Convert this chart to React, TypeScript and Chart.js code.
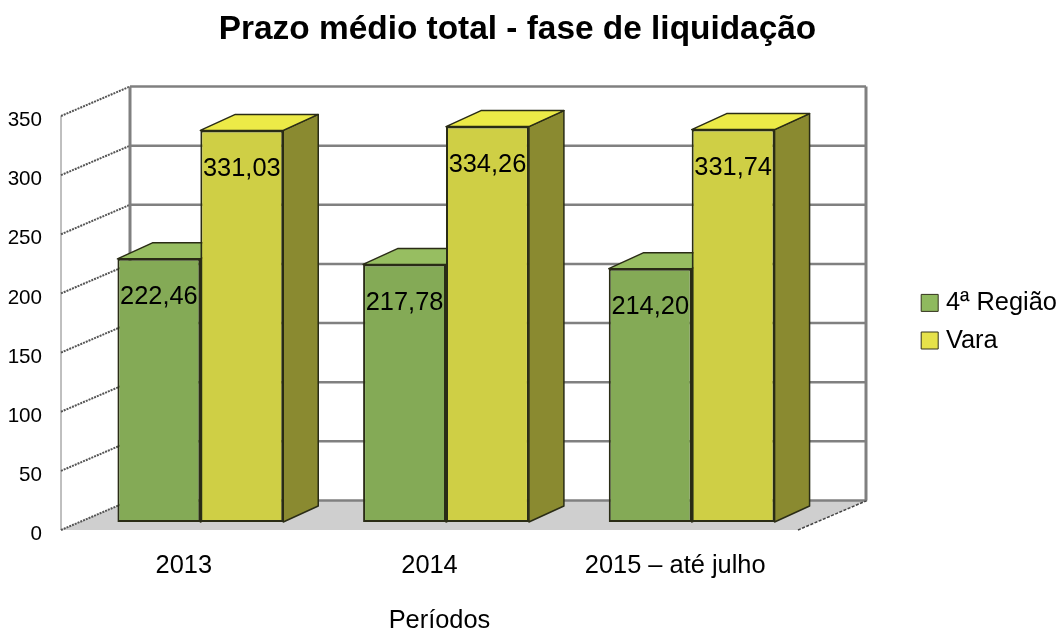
import React, { useEffect, useRef } from "react";
import { Chart, registerables } from "chart.js";

Chart.register(...registerables);

const categories = ["2013", "2014", "2015 – até julho"];
const regiao = [222.46, 217.78, 214.2];
const vara = [331.03, 334.26, 331.74];
const seriesNames = ["4ª Região", "Vara"];
const yTicks = [0, 50, 100, 150, 200, 250, 300, 350];
const titleText = "Prazo médio total - fase de liquidação";
const xTitleText = "Períodos";

const FONT = "'Liberation Sans', Arial, sans-serif";
const faceColors = ["#84AA56", "#CFCF45"];
const topColors = ["#97BE61", "#ECEA47"];
const sideColors = ["#64803F", "#8A8A30"];
const legendColors = ["#8FB95E", "#E6E24A"];
const edge = "#2A2C16";
const gridColor = "#808080";

// depth of the box (floor) and offset / depth of the bars inside it
const WALL_DX = 69;
const WALL_DY = -29.5;
const BAR_SHIFT_X = 16.5;
const BAR_SHIFT_Y = -8;
const BAR_DX = 35;
const BAR_DY = -16;

const fmt = (v: number) => v.toFixed(2).replace(".", ",");

function poly(ctx: CanvasRenderingContext2D, pts: number[][], fill: string | null, stroke?: string, lw = 1) {
  ctx.beginPath();
  pts.forEach((p, i) => (i ? ctx.lineTo(p[0], p[1]) : ctx.moveTo(p[0], p[1])));
  ctx.closePath();
  if (fill) {
    ctx.fillStyle = fill;
    ctx.fill();
  }
  if (stroke) {
    ctx.strokeStyle = stroke;
    ctx.lineWidth = lw;
    ctx.lineJoin = "round";
    ctx.stroke();
  }
}

function seg(ctx: CanvasRenderingContext2D, x1: number, y1: number, x2: number, y2: number, color: string, lw: number, dash: number[] = []) {
  ctx.save();
  ctx.beginPath();
  ctx.setLineDash(dash);
  ctx.moveTo(x1, y1);
  ctx.lineTo(x2, y2);
  ctx.strokeStyle = color;
  ctx.lineWidth = lw;
  ctx.stroke();
  ctx.restore();
}

const box3d = {
  id: "box3d",
  afterLayout(chart: any) {
    // keep the legend and the titles where the reference has them
    const lg = chart.legend;
    lg.left = 914;
    lg.right = 1059;
    lg.top = 278;
    lg.bottom = 420;
    chart.titleBlock.left = 0;
    chart.titleBlock.right = 1035;
    chart.scales.x.right = 818;
  },
  beforeDatasetsDraw(chart: any) {
    const { ctx, chartArea: a, scales } = chart;
    const y = scales.y;
    const bottom = y.getPixelForValue(0);
    const backL = a.left + WALL_DX;
    const backR = a.right + WALL_DX - 1;
    ctx.save();
    poly(ctx, [
      [a.left, bottom],
      [a.right, bottom],
      [backR + 1, bottom + WALL_DY],
      [backL, bottom + WALL_DY],
    ], "#CFCFCF");
    seg(ctx, a.left, y.getPixelForValue(350), a.left, bottom, gridColor, 1);
    yTicks.forEach((t) => {
      const p = y.getPixelForValue(t);
      seg(ctx, backL, p + WALL_DY, backR, p + WALL_DY, gridColor, 2.5);
      seg(ctx, a.left, p, backL, p + WALL_DY, "#555555", 2, [2, 1]);
    });
    seg(ctx, a.right, bottom, backR + 1, bottom + WALL_DY, "#444444", 1.5, [3, 1.5]);
    const wallTop = y.getPixelForValue(350) + WALL_DY;
    seg(ctx, backL, wallTop, backL, bottom + WALL_DY, gridColor, 3);
    seg(ctx, backR, wallTop, backR, bottom + WALL_DY, gridColor, 3);

    // Sides and tops of the bars, back to front: their fronts are drawn by the chart
    ctx.translate(BAR_SHIFT_X, BAR_SHIFT_Y);
    [0, 1].forEach((di) => {
      chart.getDatasetMeta(di).data.forEach((el: any) => {
        const l = el.x - el.width / 2;
        const r = el.x + el.width / 2;
        const t = el.y;
        const b = el.base;
        poly(ctx, [[r, t], [r + BAR_DX, t + BAR_DY], [r + BAR_DX, b + BAR_DY], [r, b]], sideColors[di], edge, 1.5);
        poly(ctx, [[l, t], [r, t], [r + BAR_DX, t + BAR_DY], [l + BAR_DX, t + BAR_DY]], topColors[di], edge, 1.5);
      });
    });
    ctx.restore();
    // fronts of the bars lie inside the box, not on its front edge
    ctx.save();
    ctx.translate(BAR_SHIFT_X, BAR_SHIFT_Y);
  },
  afterDatasetsDraw(chart: any) {
    const { ctx } = chart;
    ctx.restore();
    ctx.save();
    ctx.fillStyle = "#000";
    ctx.font = `25.4px ${FONT}`;
    ctx.textAlign = "center";
    ctx.textBaseline = "middle";
    [regiao, vara].forEach((vals, di) => {
      chart.getDatasetMeta(di).data.forEach((el: any, i: number) => {
        ctx.fillText(fmt(vals[i]), el.x + BAR_SHIFT_X, el.y + BAR_SHIFT_Y + 38.5);
      });
    });
    ctx.restore();
  },
};

export default function App() {
  const ref = useRef<HTMLCanvasElement>(null);
  useEffect(() => {
    document.body.style.margin = "0";
    document.body.style.background = "#fff";
    const chart = new Chart(ref.current!, {
      type: "bar",
      data: {
        labels: categories,
        datasets: [
          { label: seriesNames[0], data: regiao, backgroundColor: faceColors[0], borderColor: edge, borderWidth: 2, borderSkipped: false, clip: false },
          { label: seriesNames[1], data: vara, backgroundColor: faceColors[1], borderColor: edge, borderWidth: 2, borderSkipped: false, clip: false },
        ],
      } as any,
      options: {
        responsive: false,
        animation: false,
        devicePixelRatio: 1,
        layout: { padding: { left: 0, top: 0, bottom: 0, right: 161 } },
        datasets: { bar: { barPercentage: 1, categoryPercentage: 0.675 } },
        plugins: {
          tooltip: { enabled: false },
          title: {
            display: true,
            text: titleText,
            color: "#000",
            font: { family: FONT, size: 33.4, weight: "bold", lineHeight: 1.2 },
            padding: { top: 10, bottom: 65.92 },
          },
          legend: {
            display: true,
            position: "right",
            align: "start",
            maxWidth: 100,
            labels: {
              color: "#000",
              font: { family: FONT, size: 25.4 },
              usePointStyle: true,
              pointStyle: "rect",
              boxWidth: 7,
              boxHeight: 17,
              padding: 12.2,
              generateLabels: () =>
                seriesNames.map((n, i) => ({
                  text: n,
                  fillStyle: legendColors[i],
                  strokeStyle: "#33331C",
                  lineWidth: 1,
                  pointStyle: "rect",
                  datasetIndex: i,
                })),
            },
          },
        },
        scales: {
          x: {
            grid: { display: false },
            border: { display: false },
            afterFit: (s: any) => {
              s.height = 99;
            },
            ticks: { color: "#000", font: { family: FONT, size: 25.4 }, padding: 13, maxRotation: 0, autoSkip: false },
            title: {
              display: true,
              text: xTitleText,
              color: "#000",
              font: { family: FONT, size: 25.4, lineHeight: 0.63 },
              padding: { top: 0, bottom: 0 },
            },
          },
          y: {
            min: 0,
            max: 350,
            grid: { display: false },
            border: { display: false },
            afterFit: (s: any) => {
              s.width = 61;
            },
            ticks: {
              stepSize: 50,
              color: "#000",
              font: { family: FONT, size: 20.6 },
              padding: 11,
              labelOffset: 4.5,
            },
          },
        },
      } as any,
      plugins: [box3d],
    });
    return () => chart.destroy();
  }, []);
  return (
    <div style={{ width: 1059, height: 629, background: "#fff" }}>
      <canvas ref={ref} width={1059} height={629} style={{ display: "block" }} />
    </div>
  );
}
